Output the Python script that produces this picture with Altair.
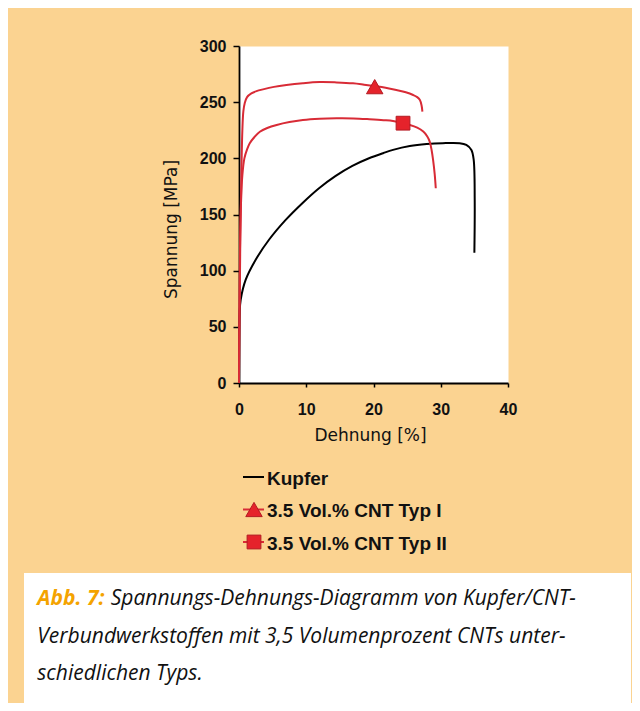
import altair as alt
import pandas as pd

# ---------------- data ----------------
series_names = ["Kupfer", "3.5 Vol.% CNT Typ I", "3.5 Vol.% CNT Typ II"]

kupfer_x = [0, 0.1, 0.25, 1.0, 2.48, 4.46, 6.94, 9.42, 11.9, 14.38, 16.86, 19.33, 21.5, 22.9,
            25.4, 27.9, 30.3, 32.8, 33.8, 34.56, 34.9, 35.05, 35.0]
kupfer_y = [0, 62, 74, 92, 109.7, 127.5, 145.2, 160.1, 173.4, 184.4, 193.3, 200.1, 204.8, 207.5,
            210.9, 212.7, 213.5, 213.5, 212, 207.5, 198.6, 163, 116]

typ1_x = [0, 0.1, 0.2, 0.35, 0.5, 0.65, 0.85, 1.2, 1.84, 2.6, 3.57, 5.2, 7.05, 9.5, 12.0,
          14.5, 16.95, 18.6, 20.2, 21.8, 23.4, 24.8, 25.9, 26.5, 26.9, 27.15, 27.27]
typ1_y = [0, 70, 130, 185, 225, 242, 249, 254.5, 257.8, 259.8, 261.4, 263.6, 265.3, 266.9, 267.9,
          267.6, 266.8, 265.6, 264.3, 262.8, 260.8, 258.8, 256.4, 254.5, 252, 247, 241.6]

typ2_x = [0, 0.05, 0.15, 0.3, 0.5, 0.8, 1.2, 1.6, 2.3, 3.1, 4.2, 5.6, 7.5, 9.5, 12.0, 14.5,
          17.0, 19.4, 21.5, 22.9, 24.3, 25.4, 26.5, 27.4, 28.0, 28.36, 28.65, 28.86, 29.1, 29.26]
typ2_y = [0, 60, 120, 160, 185, 200, 208, 213.4, 219, 223.7, 227, 229.7, 232.3, 234.1, 235.2, 235.6,
          235.5, 234.8, 234, 233.2, 231.2, 229.7, 227.3, 223.8, 219.5, 214.9, 207, 198.6, 186, 173.4]

marker_x = [20.18, 24.39]
marker_y = [263.8, 231.3]

x_ticks = [0, 5, 10, 15, 20, 25, 30, 35, 40]
y_ticks = [0, 50, 100, 150, 200, 250, 300]

caption_label = "Abb. 7:"
caption_lines = [
    "Spannungs-Dehnungs-Diagramm von Kupfer/CNT-",
    "Verbundwerkstoffen mit 3,5 Volumenprozent CNTs unter-",
    "schiedlichen Typs.",
]

# ---------------- tables ----------------
rows = []
for name, xs, ys in zip(series_names, [kupfer_x, typ1_x, typ2_x], [kupfer_y, typ1_y, typ2_y]):
    for i, (xv, yv) in enumerate(zip(xs, ys)):
        rows.append({"series": name, "x": xv, "y": yv, "i": i})
curves = pd.DataFrame(rows)

RED = "#D82B36"
MFILL = "#E5232B"
MSTROKE = "#B31A22"
BG = "#FBD391"

W, H = 269, 337

xscale = alt.Scale(domain=[0, 40], nice=False)
yscale = alt.Scale(domain=[0, 300], nice=False)

xaxis = alt.Axis(values=x_ticks, labelExpr="datum.value % 10 == 0 ? datum.label : ''",
                 labelFlush=False,
                 title="Dehnung [%]", tickSize=4, labelPadding=14,
                 titleX=131, titleY=57, titleBaseline="alphabetic", titleAlign="center")
yaxis = alt.Axis(values=y_ticks, title="Spannung [MPa]", tickSize=6, labelPadding=7,
                 labelFlush=False,
                 titleAngle=270, titleX=-63, titleY=183, titleBaseline="alphabetic",
                 titleAlign="center")

lines = alt.Chart(curves).mark_line(strokeWidth=2, interpolate="catmull-rom").encode(
    x=alt.X("x:Q", scale=xscale, axis=xaxis),
    y=alt.Y("y:Q", scale=yscale, axis=yaxis),
    color=alt.Color("series:N", scale=alt.Scale(domain=series_names, range=["#000000", RED, RED]),
                    legend=None),
    detail="series:N",
    order=alt.Order("i:Q"),
)

mk = pd.DataFrame({"x": marker_x, "y": marker_y, "series": series_names[1:]})
tri = alt.Chart(mk.iloc[[0]]).mark_point(shape="triangle-up", size=270, filled=True, fill=MFILL,
                                         stroke=MSTROKE, strokeWidth=1, opacity=1).encode(
    x=alt.X("x:Q", scale=xscale), y=alt.Y("y:Q", scale=yscale))
sq = alt.Chart(mk.iloc[[1]]).mark_point(shape="square", size=190, filled=True, fill=MFILL,
                                        stroke=MSTROKE, strokeWidth=1, opacity=1).encode(
    x=alt.X("x:Q", scale=xscale), y=alt.Y("y:Q", scale=yscale))

# ---------------- legend (manual) ----------------
LX0, LX1, LSX, LTX = 4, 25, 15, 28
leg_rows_y = [431, 463.5, 496]
leg_base_y = [439, 471, 504]
LFONT = "Liberation Sans"

leg = []
leg.append(alt.Chart(mk.iloc[[0]]).mark_rule(color="#000000", strokeWidth=2).encode(
    x=alt.value(LX0), x2=alt.value(LX1), y=alt.value(leg_rows_y[0])))
for k, col in [(1, RED), (2, RED)]:
    leg.append(alt.Chart(mk.iloc[[0]]).mark_rule(color=col, strokeWidth=2).encode(
        x=alt.value(LX0), x2=alt.value(LX1), y=alt.value(leg_rows_y[k])))
leg.append(alt.Chart(mk.iloc[[0]]).mark_point(shape="triangle-up", size=270, filled=True,
                                              fill=MFILL, stroke=MSTROKE, strokeWidth=1, opacity=1).encode(
    x=alt.value(LSX), y=alt.value(leg_rows_y[1])))
leg.append(alt.Chart(mk.iloc[[0]]).mark_point(shape="square", size=190, filled=True,
                                              fill=MFILL, stroke=MSTROKE, strokeWidth=1, opacity=1).encode(
    x=alt.value(LSX), y=alt.value(leg_rows_y[2])))
for k in range(3):
    leg.append(alt.Chart(mk.iloc[[0]]).mark_text(align="left", baseline="alphabetic", font=LFONT,
                                                 fontSize=19, fontWeight="bold", color="#111111").encode(
        x=alt.value(LTX), y=alt.value(leg_base_y[k]), text=alt.value(series_names[k])))

# ---------------- caption ----------------
CFONT = "Open Sans"
CSIZE = 21
cap = []
cap.append(alt.Chart(mk.iloc[[0]]).mark_rect(color="#FFFFFF").encode(
    x=alt.value(-215), x2=alt.value(392), y=alt.value(527), y2=alt.value(657)))
cap_base = [559, 596.7, 634]
cap.append(alt.Chart(mk.iloc[[0]]).mark_text(align="left", baseline="alphabetic", font=CFONT,
                                             fontSize=CSIZE, fontStyle="italic", fontWeight="bold",
                                             color="#F4A300").encode(
    x=alt.value(-201.7), y=alt.value(cap_base[0]), text=alt.value(caption_label)))
cap_x = [-128.3, -201.7, -201.7]
for k in range(3):
    cap.append(alt.Chart(mk.iloc[[0]]).mark_text(align="left", baseline="alphabetic", font=CFONT,
                                                 fontSize=CSIZE, fontStyle="italic",
                                                 color="#111111").encode(
        x=alt.value(cap_x[k]), y=alt.value(cap_base[k]), text=alt.value(caption_lines[k])))

chart = alt.layer(lines, tri, sq, *leg, *cap).properties(
    width=W, height=H,
    padding={"left": 231, "top": 38, "right": 124, "bottom": 320},
    autosize=alt.AutoSizeParams(type="none"),
    background=BG,
).configure_view(fill="#FFFFFF", stroke="transparent").configure_axis(
    grid=False, domainColor="#000000", domainWidth=1.8, tickColor="#000000", tickWidth=1.5,
    labelFont=LFONT, labelFontSize=16, labelFontWeight="bold", labelColor="#111111",
    titleFont="DejaVu Sans", titleFontSize=17, titleFontWeight="normal", titleColor="#111111",
)

chart.save("out.html", embed_options={"renderer": "svg", "actions": False})
